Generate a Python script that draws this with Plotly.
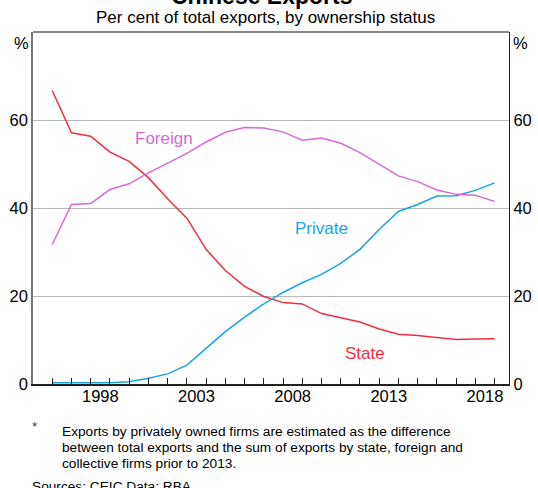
import plotly.graph_objects as go

# Annual shares of total Chinese exports (per cent)
years = list(range(1996, 2020))
state = [66.7, 57.1, 56.3, 52.7, 50.6, 46.9, 42.1, 37.7, 30.6, 25.8, 22.2, 19.9,
         18.5, 18.2, 16.0, 15.0, 14.1, 12.5, 11.3, 11.0, 10.6, 10.1, 10.2, 10.3]
foreign = [31.7, 40.8, 41.0, 44.2, 45.5, 48.0, 50.2, 52.4, 55.0, 57.2, 58.3, 58.2,
           57.3, 55.4, 55.9, 54.7, 52.6, 49.9, 47.3, 46.0, 44.1, 43.1, 42.9, 41.5]
private = [0.3, 0.3, 0.3, 0.3, 0.5, 1.3, 2.3, 4.3, 8.1, 11.9, 15.2, 18.2,
           20.8, 23.0, 24.9, 27.4, 30.6, 35.1, 39.2, 40.8, 42.7, 42.8, 44.0, 45.7]

label_years = [1998, 2003, 2008, 2013, 2018]
y_ticks = [0, 20, 40, 60]

RED = "#ef2f3e"
PURPLE = "#d46bd6"
BLUE = "#17a5e1"
FONT = "Liberation Sans, Arial, sans-serif"

W, H = 538, 488
L, R, T, B = 33, 29, 32, 104
X_RANGE = [1995.0, 2019.75]


def px(xp):
    return (xp - L) / (W - L - R)


def py(yp):
    return (H - B - yp) / (H - B - T)


fig = go.Figure()
fig.add_trace(go.Scatter(x=years, y=state, mode="lines", name="State",
                         line=dict(color=RED, width=1.5)))
fig.add_trace(go.Scatter(x=years, y=foreign, mode="lines", name="Foreign",
                         line=dict(color=PURPLE, width=1.5), xaxis="x2"))
fig.add_trace(go.Scatter(x=years, y=private, mode="lines", name="Private",
                         line=dict(color=BLUE, width=1.5), yaxis="y2"))

fig.update_layout(
    width=W, height=H,
    margin=dict(l=L, r=R, t=T, b=B, pad=0, autoexpand=False),
    paper_bgcolor="white", plot_bgcolor="white",
    showlegend=False,
    font=dict(family=FONT, size=16.5, color="black"),
    # year boundary ticks
    xaxis=dict(
        range=X_RANGE,
        tickmode="linear", tick0=1996, dtick=1,
        ticks="inside", ticklen=6, tickwidth=1, tickcolor="#222",
        showticklabels=False,
        showgrid=False, zeroline=False,
        showline=True, linecolor="#222", linewidth=2,
    ),
    # year labels centred within each year
    xaxis2=dict(
        range=X_RANGE, overlaying="x", side="bottom", anchor="y",
        tickmode="array",
        tickvals=[y + 0.5 for y in label_years],
        ticktext=[str(y) for y in label_years],
        ticks="", showgrid=False, zeroline=False, showline=False,
        tickfont=dict(size=16.5),
    ),
    yaxis=dict(
        range=[0, 80],
        tickmode="array", tickvals=y_ticks, ticktext=[str(v) for v in y_ticks],
        ticks="", showgrid=True, gridcolor="#b9b9b9", gridwidth=1,
        zeroline=False, showline=True, linecolor="#777", linewidth=1.5,
        tickfont=dict(size=16.5),
    ),
    yaxis2=dict(
        range=[0, 80], overlaying="y", side="right",
        tickmode="array", tickvals=y_ticks, ticktext=[str(v) for v in y_ticks],
        ticks="", showgrid=False, zeroline=False,
        showline=True, linecolor="#222", linewidth=1.2,
        tickfont=dict(size=16.5),
    ),
    shapes=[dict(type="line", xref="paper", yref="paper", x0=0, x1=1, y0=1, y1=1,
                 line=dict(color="#888", width=2))],
)

ann = []


def note(text, x, y, size, color="black", xanchor="center", bold=False):
    ann.append(dict(text=f"<b>{text}</b>" if bold else text,
                    x=px(x), y=py(y), xref="paper", yref="paper",
                    xanchor=xanchor, yanchor="middle", showarrow=False,
                    font=dict(family=FONT, size=size, color=color)))


note("Chinese Exports", 262, -4, 23, bold=True)
note("Per cent of total exports, by ownership status", 265, 18, 17)
note("%", 21, 43, 16.5)
note("%", 520, 43, 16.5)
note("Foreign", 163.5, 138, 17, PURPLE)
note("Private", 321, 229, 17, BLUE)
note("State", 365, 353, 17, RED)
note("*", 35, 426, 13.7, "#444")
note("Exports by privately owned firms are estimated as the difference", 60, 431, 13.7, xanchor="left")
note("between total exports and the sum of exports by state, foreign and", 60, 447, 13.7, xanchor="left")
note("collective firms prior to 2013.", 60, 463, 13.7, xanchor="left")
note("Sources: CEIC Data; RBA", 30, 486, 13.7, xanchor="left")

fig.update_layout(annotations=ann)
fig.write_html("out.html")
